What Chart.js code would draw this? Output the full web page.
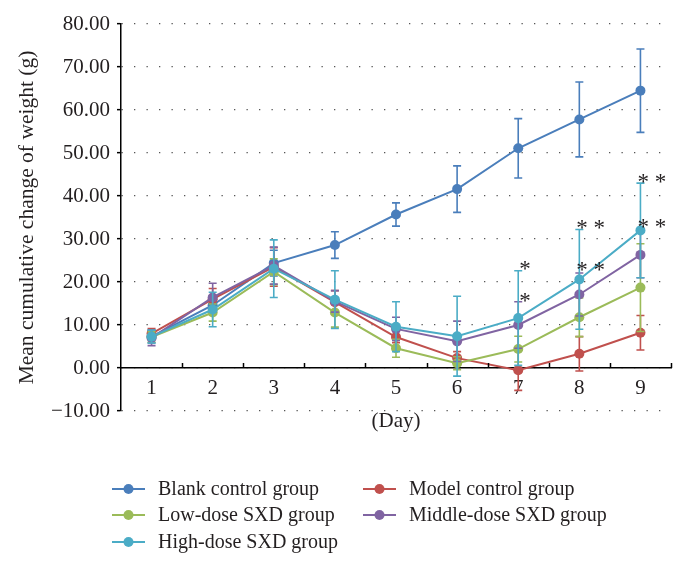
<!DOCTYPE html>
<html>
<head>
<meta charset="utf-8">
<script src="https://cdn.jsdelivr.net/npm/chart.js@4/dist/chart.umd.min.js"></script>
<style>
  html, body { margin: 0; padding: 0; background: #fff; }
  #wrap { width: 686px; height: 569px; }
</style>
</head>
<body>
<div id="wrap"><canvas id="myChart" width="686" height="569"></canvas></div>
<script>
// days on the x axis
const days = ['1', '2', '3', '4', '5', '6', '7', '8', '9'];

// mean cumulative change of weight (g), one array per group
const blank = [7.3, 14.6, 24.4, 28.6, 35.7, 41.6, 51.1, 57.8, 64.5];
const model = [8.0, 16.0, 23.5, 15.3, 7.2, 2.3, -0.5, 3.3, 8.2];
const lowDose = [7.2, 12.9, 22.4, 12.9, 4.6, 1.1, 4.4, 11.8, 18.7];
const middleDose = [7.0, 16.4, 23.8, 15.5, 9.1, 6.2, 10.0, 17.1, 26.3];
const highDose = [7.3, 13.6, 23.1, 15.9, 9.6, 7.4, 11.6, 20.6, 32.0];

// error bar half lengths
const blankErr = [1.5, 2.0, 3.0, 3.1, 2.7, 5.4, 6.9, 8.7, 9.7];
const modelErr = [1.2, 2.5, 4.5, 2.7, 1.3, 1.5, 4.7, 4.0, 4.0];
const lowErr = [1.2, 2.0, 3.0, 3.4, 2.1, 1.5, 3.0, 4.5, 10.2];
const middleErr = [1.8, 3.3, 4.3, 2.5, 2.7, 4.7, 5.4, 5.0, 5.3];
const highErr = [1.5, 4.0, 6.7, 6.7, 5.8, 9.3, 11.0, 11.6, 11.0];

// significance marks
const starDays = ['7', '7', '8', '8', '9', '9'];
const starLevels = [24.1, 16.7, 33.8, 24.0, 44.4, 33.9];
const starMarks = ['*', '*', '* *', '* *', '* *', '* *'];

const yTicksMin = -10, yTicksMax = 80, yStep = 10;

const groupNames = ['Blank control group', 'Model control group', 'Low-dose SXD group',
    'Middle-dose SXD group', 'High-dose SXD group'];
const groupColors = ['#4a7ebb', '#c0504d', '#9bbb59', '#8064a2', '#4bacc6'];
const groupValues = [blank, model, lowDose, middleDose, highDose];
const groupErrs = [blankErr, modelErr, lowErr, middleErr, highErr];

const serif = '"Liberation Serif", "DejaVu Serif", serif';

// draws the error bars of each group just under its line
const errorBars = {
    id: 'errorBars',
    beforeDatasetDraw(chart, args) {
        const i = args.index;
        const ctx = chart.ctx;
        const xs = chart.scales.x, ys = chart.scales.y;
        ctx.save();
        ctx.strokeStyle = groupColors[i];
        ctx.lineWidth = 1.6;
        groupValues[i].forEach((v, j) => {
            const px = xs.getPixelForValue(j);
            const top = ys.getPixelForValue(v + groupErrs[i][j]);
            const bot = ys.getPixelForValue(v - groupErrs[i][j]);
            ctx.beginPath();
            ctx.moveTo(px, top); ctx.lineTo(px, bot);
            ctx.moveTo(px - 4, top); ctx.lineTo(px + 4, top);
            ctx.moveTo(px - 4, bot); ctx.lineTo(px + 4, bot);
            ctx.stroke();
        });
        ctx.restore();
    }
};

// asterisks, upward x ticks and the two column legend
const extras = {
    id: 'extras',
    afterDraw(chart) {
        const ctx = chart.ctx;
        const xs = chart.scales.x, ys = chart.scales.y;
        const area = chart.chartArea;
        const y0 = ys.getPixelForValue(0);
        ctx.save();
        // small tick marks pointing up from the day axis
        ctx.strokeStyle = '#000';
        ctx.lineWidth = 1.5;
        const step = (area.right - area.left) / days.length;
        for (let k = 1; k <= days.length; k++) {
            const tx = Math.round(area.left + k * step) + 0.5;
            ctx.beginPath();
            ctx.moveTo(tx, y0); ctx.lineTo(tx, y0 - 5);
            ctx.stroke();
        }
        // significance marks
        ctx.fillStyle = '#231f20';
        ctx.font = '23px ' + serif;
        ctx.textAlign = 'left';
        ctx.textBaseline = 'middle';
        starMarks.forEach((m, k) => {
            const px = xs.getPixelForValue(days.indexOf(starDays[k]));
            const py = ys.getPixelForValue(starLevels[k]);
            ctx.fillText(m, px + (m.length > 1 ? -3 : 1), py + 6);
        });
        // legend
        const cols = [112, 363];
        const rows = [489, 515, 542];
        const slots = [[0, 0], [1, 0], [0, 1], [1, 1], [0, 2]];
        ctx.font = '20px ' + serif;
        ctx.textBaseline = 'middle';
        groupNames.forEach((name, i) => {
            const lx = cols[slots[i][0]], ly = rows[slots[i][1]];
            ctx.strokeStyle = groupColors[i];
            ctx.lineWidth = 2;
            ctx.beginPath();
            ctx.moveTo(lx, ly); ctx.lineTo(lx + 33, ly);
            ctx.stroke();
            ctx.fillStyle = groupColors[i];
            ctx.beginPath();
            ctx.arc(lx + 16.5, ly, 5, 0, Math.PI * 2);
            ctx.fill();
            ctx.fillStyle = '#231f20';
            ctx.fillText(name, lx + 46, ly + 1);
        });
        ctx.restore();
    }
};

const datasets = groupNames.map((name, i) => ({
    label: name,
    data: groupValues[i],
    borderColor: groupColors[i],
    backgroundColor: groupColors[i],
    borderWidth: 2,
    pointRadius: 5,
    pointBorderWidth: 0,
    pointBackgroundColor: groupColors[i],
    tension: 0,
    order: groupNames.length - 1 - i
}));

new Chart(document.getElementById('myChart'), {
    type: 'line',
    data: { labels: days, datasets: datasets },
    options: {
        responsive: false,
        animation: false,
        layout: { padding: { top: 24, right: 15, bottom: 158, left: 0 } },
        plugins: { legend: { display: false }, tooltip: { enabled: false } },
        scales: {
            x: {
                position: { y: 0 },
                offset: true,
                grid: { display: true, drawOnChartArea: false, drawTicks: false, offset: true },
                border: { display: true, color: '#000', width: 1.5 },
                ticks: { color: '#231f20', padding: 8, font: { family: serif, size: 21 } },
                title: { display: true, text: '(Day)', color: '#231f20', padding: { top: 0, bottom: 0 },
                    font: { family: serif, size: 21 } }
            },
            y: {
                min: yTicksMin,
                max: yTicksMax,
                afterFit(scale) { scale.width = 121; },
                grid: { color: '#555', lineWidth: 1.3, tickColor: '#000', tickLength: 4, tickWidth: 1.5 },
                border: { display: true, color: '#000', width: 1.5, dash: [1.3, 11.2] },
                ticks: {
                    stepSize: yStep, color: '#231f20', padding: 7,
                    font: { family: serif, size: 21 },
                    callback: v => v.toFixed(2).replace('-', '\u2212')
                },
                title: { display: true, text: 'Mean cumulative change of weight (g)', color: '#231f20',
                    padding: { top: 14, bottom: 0 }, font: { family: serif, size: 21.5 } }
            }
        }
    },
    plugins: [errorBars, extras]
});
</script>
</body>
</html>
